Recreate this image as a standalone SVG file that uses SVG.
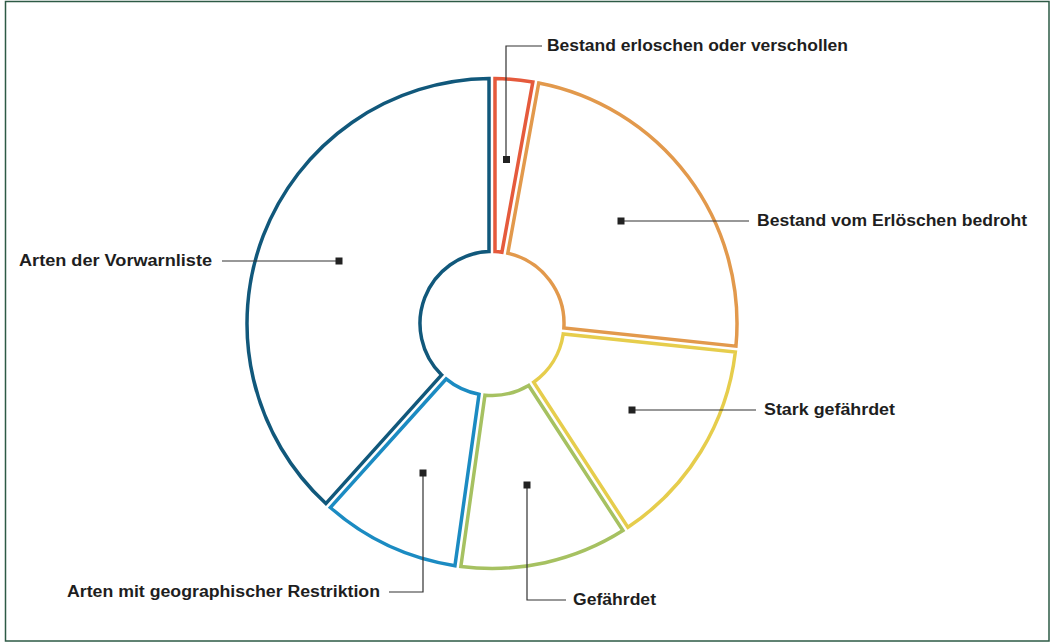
<svg xmlns="http://www.w3.org/2000/svg" width="1052" height="643" viewBox="0 0 1052 643">
<style>
.seg{fill:#fff;stroke-width:3.5;stroke-linejoin:miter}
.lead{fill:none;stroke:#333;stroke-width:1.2}
.dot{fill:#222}
.lbl{font-family:"Liberation Sans",Arial,sans-serif;font-weight:bold;font-size:16px;fill:#1e1e1e}
</style>
<rect x="0" y="0" width="1052" height="643" fill="#fff"/>
<rect x="5.5" y="1.5" width="1043.5" height="639.5" fill="none" stroke="#2d5a45" stroke-width="1.5"/>
<g id="seg-erloschen"><path class="seg" stroke="#e55a3c" d="M494.99 78.52 A245 245 0 0 1 532.86 81.93 L501.91 252.18 A72 72 0 0 0 495.00 251.56 Z"/></g>
<g id="seg-bedroht"><path class="seg" stroke="#e2994c" d="M538.75 83.00 A245 245 0 0 1 735.95 346.13 L563.86 328.03 A72 72 0 0 0 507.82 253.26 Z"/></g>
<g id="seg-stark"><path class="seg" stroke="#e6cd4c" d="M735.33 352.08 A245 245 0 0 1 627.94 527.33 L533.70 382.20 A72 72 0 0 0 563.23 334.01 Z"/></g>
<g id="seg-gefaehrdet"><path class="seg" stroke="#a6c161" d="M622.92 530.59 A245 245 0 0 1 460.87 566.51 L484.96 395.16 A72 72 0 0 0 528.66 385.47 Z"/></g>
<g id="seg-restriktion"><path class="seg" stroke="#1b8bc2" d="M454.94 565.68 A245 245 0 0 1 330.30 507.56 L446.10 378.97 A72 72 0 0 0 479.02 394.32 Z"/></g>
<g id="seg-vorwarnliste"><path class="seg" stroke="#11587b" d="M325.85 503.55 A245 245 0 0 1 489.01 78.52 L489.00 251.56 A72 72 0 0 0 441.62 374.94 Z"/></g>
<g id="connectors">
<polyline class="lead" points="506,159 506,46 542,46"/>
<rect class="dot" x="503" y="156" width="7" height="7"/>
<line class="lead" x1="621" y1="221" x2="749" y2="221"/>
<rect class="dot" x="617.5" y="217.5" width="7" height="7"/>
<line class="lead" x1="222" y1="261" x2="339" y2="261"/>
<rect class="dot" x="335.5" y="257.5" width="7" height="7"/>
<line class="lead" x1="632" y1="410" x2="756" y2="410"/>
<rect class="dot" x="628.5" y="406.5" width="7" height="7"/>
<polyline class="lead" points="527,485 527,600 566,600"/>
<rect class="dot" x="523.5" y="481.5" width="7" height="7"/>
<polyline class="lead" points="423,473 423,592 389,592"/>
<rect class="dot" x="419.5" y="469.5" width="7" height="7"/>
</g>
<g id="labels">
<text class="lbl" x="547" y="51" textLength="301" lengthAdjust="spacingAndGlyphs">Bestand erloschen oder verschollen</text>
<text class="lbl" x="757" y="226" textLength="270" lengthAdjust="spacingAndGlyphs">Bestand vom Erlöschen bedroht</text>
<text class="lbl" x="19" y="266" textLength="193" lengthAdjust="spacingAndGlyphs">Arten der Vorwarnliste</text>
<text class="lbl" x="764" y="415" textLength="131" lengthAdjust="spacingAndGlyphs">Stark gefährdet</text>
<text class="lbl" x="573" y="605" textLength="83" lengthAdjust="spacingAndGlyphs">Gefährdet</text>
<text class="lbl" x="67" y="597" textLength="313" lengthAdjust="spacingAndGlyphs">Arten mit geographischer Restriktion</text>
</g>
</svg>
